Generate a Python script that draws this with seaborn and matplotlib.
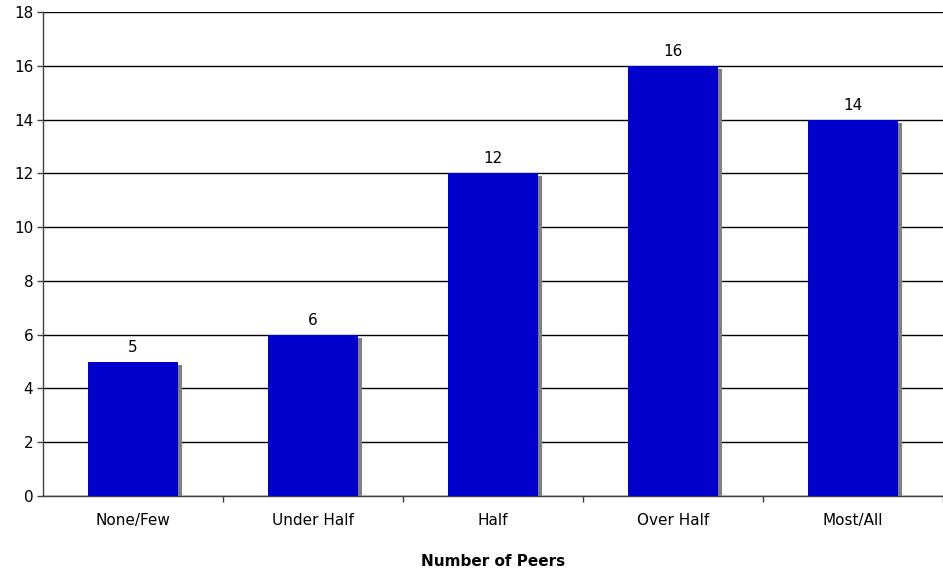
import matplotlib
matplotlib.use("Agg")
import matplotlib.pyplot as plt
import matplotlib.patheffects as pe
from matplotlib.ticker import FixedLocator
import seaborn as sns
import pandas as pd

categories = ["None/Few", "Under Half", "Half", "Over Half", "Most/All"]
counts = [5, 6, 12, 16, 14]
y_ticks = [0, 2, 4, 6, 8, 10, 12, 14, 16, 18]

sns.set_style("white")
plt.rcParams["font.family"] = ["DejaVu Sans"]
FS = 11

df = pd.DataFrame({"Peers": categories, "Count": counts})

fig = plt.figure(figsize=(9.43, 5.71), dpi=100)
ax = fig.add_axes([43 / 943, 75 / 571, 900 / 943, 484 / 571])

sns.barplot(data=df, x="Peers", y="Count", color="#0000CC", saturation=1,
            width=0.505, ax=ax, zorder=3)

shadow = [pe.SimplePatchShadow(offset=(2.2, -2.2), shadow_rgbFace="#808080", alpha=1.0),
          pe.Normal()]
for bar in ax.patches:
    bar.set_edgecolor("none")
    bar.set_path_effects(shadow)

for i, v in enumerate(counts):
    ax.annotate(str(v), (i, v), xytext=(0, 5), textcoords="offset points",
                ha="center", va="bottom", fontsize=FS, color="black")

ax.set_ylim(0, 18)
ax.set_xlim(-0.5, 4.5)
ax.set_yticks(y_ticks)
ax.yaxis.grid(True, color="black", linewidth=1)
ax.set_axisbelow(True)

ax.xaxis.set_minor_locator(FixedLocator([0.5, 1.5, 2.5, 3.5, 4.5]))
ax.tick_params(axis="x", which="major", length=0, pad=12, labelsize=FS, labelcolor="black")
ax.tick_params(axis="x", which="minor", length=4, width=1, color="#404040", direction="out", bottom=True)
ax.tick_params(axis="y", length=4, width=1, color="#404040", direction="out", left=True,
               labelsize=FS, labelcolor="black", pad=3)

for s in ["top", "right"]:
    ax.spines[s].set_visible(False)
for s in ["left", "bottom"]:
    ax.spines[s].set_color("#404040")
    ax.spines[s].set_linewidth(1)

ax.set_ylabel("")
ax.set_xlabel("")
fig.text(493 / 943, 1 - 562 / 571, "Number of Peers", ha="center", va="center",
         fontsize=FS, fontweight="bold", color="black")

fig.savefig("out.png", dpi=100)
